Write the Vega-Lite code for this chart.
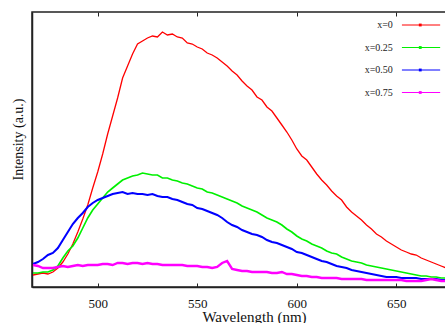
{
  "$schema": "https://vega.github.io/schema/vega-lite/v6.json",
  "width": 444,
  "height": 275,
  "autosize": "none",
  "padding": {"left": 32, "top": 12, "right": 0, "bottom": 36},
  "background": "white",
  "config": {
    "view": {"stroke": "#222", "strokeWidth": 1.5},
    "font": "Liberation Serif",
    "axis": {"labelFont": "Liberation Serif", "titleFont": "Liberation Serif", "domainColor": "#222", "tickColor": "#222", "labelColor": "#111", "titleColor": "#111", "grid": false}
  },
  "resolve": {"axis": {"x": "independent"}},
  "layer": [
    {
      "data": {"values": [
        {"w":467.5,"a":12,"b":14,"c":23,"d":22},
        {"w":470,"a":13,"b":14,"c":25,"d":21},
        {"w":472.5,"a":14,"b":15,"c":28,"d":19},
        {"w":475,"a":13,"b":15,"c":32,"d":19},
        {"w":477.5,"a":15,"b":17,"c":34,"d":19},
        {"w":480,"a":19,"b":21,"c":39,"d":20},
        {"w":482.5,"a":25,"b":29,"c":47,"d":21},
        {"w":485,"a":33,"b":36,"c":55,"d":20},
        {"w":487.5,"a":43,"b":41,"c":63,"d":21},
        {"w":490,"a":55,"b":49,"c":69,"d":22},
        {"w":492.5,"a":68,"b":59,"c":74,"d":21},
        {"w":495,"a":82,"b":69,"c":80,"d":22},
        {"w":497.5,"a":99,"b":77,"c":84,"d":22},
        {"w":500,"a":115,"b":83,"c":87,"d":22},
        {"w":502.5,"a":133,"b":89,"c":89,"d":23},
        {"w":505,"a":153,"b":95,"c":91,"d":23},
        {"w":507.5,"a":171,"b":99,"c":93,"d":22},
        {"w":510,"a":189,"b":103,"c":94,"d":24},
        {"w":512.5,"a":209,"b":107,"c":95,"d":24},
        {"w":515,"a":221,"b":109,"c":93,"d":23},
        {"w":517.5,"a":233,"b":111,"c":94,"d":24},
        {"w":520,"a":243,"b":112,"c":93,"d":24},
        {"w":522.5,"a":246,"b":114,"c":93,"d":23},
        {"w":525,"a":249,"b":113,"c":92,"d":24},
        {"w":527.5,"a":251,"b":112,"c":93,"d":23},
        {"w":530,"a":250,"b":112,"c":91,"d":23},
        {"w":532.5,"a":255,"b":109,"c":90,"d":22},
        {"w":535,"a":252,"b":109,"c":90,"d":22},
        {"w":537.5,"a":253,"b":107,"c":88,"d":22},
        {"w":540,"a":250,"b":106,"c":87,"d":22},
        {"w":542.5,"a":249,"b":104,"c":85,"d":22},
        {"w":545,"a":244,"b":103,"c":83,"d":21},
        {"w":547.5,"a":243,"b":101,"c":82,"d":21},
        {"w":550,"a":240,"b":99,"c":79,"d":21},
        {"w":552.5,"a":238,"b":98,"c":78,"d":20},
        {"w":555,"a":234,"b":95,"c":76,"d":20},
        {"w":557.5,"a":232,"b":94,"c":74,"d":19},
        {"w":560,"a":229,"b":92,"c":72,"d":20},
        {"w":562.5,"a":225,"b":90,"c":69,"d":24},
        {"w":565,"a":221,"b":88,"c":65,"d":26},
        {"w":567.5,"a":216,"b":86,"c":62,"d":18},
        {"w":570,"a":212,"b":84,"c":60,"d":17},
        {"w":572.5,"a":206,"b":81,"c":57,"d":16},
        {"w":575,"a":201,"b":79,"c":55,"d":16},
        {"w":577.5,"a":197,"b":77,"c":53,"d":15},
        {"w":580,"a":190,"b":75,"c":52,"d":15},
        {"w":582.5,"a":187,"b":72,"c":50,"d":15},
        {"w":585,"a":180,"b":69,"c":47,"d":15},
        {"w":587.5,"a":176,"b":67,"c":45,"d":14},
        {"w":590,"a":169,"b":65,"c":44,"d":14},
        {"w":592.5,"a":162,"b":62,"c":42,"d":15},
        {"w":595,"a":155,"b":58,"c":40,"d":13},
        {"w":597.5,"a":147,"b":55,"c":38,"d":13},
        {"w":600,"a":138,"b":51,"c":35,"d":12},
        {"w":602.5,"a":131,"b":48,"c":34,"d":11},
        {"w":605,"a":127,"b":46,"c":32,"d":11},
        {"w":607.5,"a":120,"b":43,"c":30,"d":10},
        {"w":610,"a":113,"b":41,"c":28,"d":10},
        {"w":612.5,"a":107,"b":39,"c":26,"d":9},
        {"w":615,"a":102,"b":36,"c":25,"d":9},
        {"w":617.5,"a":96,"b":34,"c":23,"d":9},
        {"w":620,"a":91,"b":33,"c":21,"d":9},
        {"w":622.5,"a":87,"b":30,"c":20,"d":8},
        {"w":625,"a":80,"b":28,"c":19,"d":8},
        {"w":627.5,"a":75,"b":26,"c":17,"d":8},
        {"w":630,"a":71,"b":25,"c":16,"d":8},
        {"w":632.5,"a":67,"b":24,"c":15,"d":8},
        {"w":635,"a":62,"b":22,"c":14,"d":7},
        {"w":637.5,"a":58,"b":21,"c":13,"d":7},
        {"w":640,"a":53,"b":20,"c":12,"d":7},
        {"w":642.5,"a":50,"b":19,"c":11,"d":7},
        {"w":645,"a":46,"b":18,"c":10,"d":7},
        {"w":647.5,"a":43,"b":17,"c":10,"d":7},
        {"w":650,"a":40,"b":16,"c":10,"d":7},
        {"w":652.5,"a":37,"b":15,"c":9,"d":7},
        {"w":655,"a":35,"b":14,"c":9,"d":6},
        {"w":657.5,"a":33,"b":13,"c":9,"d":6},
        {"w":660,"a":32,"b":12,"c":9,"d":6},
        {"w":662.5,"a":29,"b":11,"c":8,"d":6},
        {"w":665,"a":27,"b":11,"c":8,"d":7},
        {"w":667.5,"a":25,"b":10,"c":8,"d":8},
        {"w":670,"a":23,"b":10,"c":8,"d":7},
        {"w":672.5,"a":21,"b":9,"c":7,"d":6},
        {"w":675,"a":19,"b":9,"c":7,"d":6}
      ]},
      "transform": [{"fold": ["a", "b", "c", "d"], "as": ["k", "v"]}],
      "mark": {"type": "line", "clip": true},
      "encoding": {
        "x": {"field": "w", "type": "quantitative", "scale": {"domain": [467, 690], "nice": false, "zero": false},
          "axis": {"values": [500, 550, 600, 650], "title": "Wavelength (nm)", "titleFontSize": 15, "titleFontWeight": "normal", "titlePadding": -1, "labelFontSize": 13, "tickSize": -4, "labelPadding": 14, "domainWidth": 1.5, "labelFlush": false}},
        "y": {"field": "v", "type": "quantitative", "scale": {"domain": [0, 275], "nice": false},
          "axis": {"labels": false, "ticks": false, "title": "Intensity (a.u.)", "titleFontSize": 14, "titleFontWeight": "normal", "titleAngle": -90, "titleAlign": "center", "titleBaseline": "middle", "titleX": -14, "titleY": 127, "domainWidth": 1.5}},
        "color": {"field": "k", "type": "nominal", "scale": {"domain": ["a", "b", "c", "d"], "range": ["#ff0000", "#00f000", "#0000ff", "#ff00ff"]}, "legend": null},
        "strokeWidth": {"field": "k", "type": "nominal", "scale": {"domain": ["a", "b", "c", "d"], "range": [1.3, 2.4, 2.4, 3]}, "legend": null}
      }
    },
    {
      "data": {"values": [
        {"k": "a", "lab": "x=0", "ly": 262, "x1": 652.8, "x2": 672, "xm": 662, "xt": 648.2},
        {"k": "b", "lab": "x=0.25", "ly": 239.5, "x1": 652.8, "x2": 672, "xm": 662, "xt": 648.2},
        {"k": "c", "lab": "x=0.50", "ly": 217, "x1": 652.8, "x2": 672, "xm": 662, "xt": 648.2},
        {"k": "d", "lab": "x=0.75", "ly": 194.5, "x1": 652.8, "x2": 672, "xm": 662, "xt": 648.2}
      ]},
      "layer": [
        {
          "mark": {"type": "rule", "strokeWidth": 1},
          "encoding": {
            "x": {"field": "x1", "type": "quantitative", "axis": {"orient": "top", "values": [500, 550, 600, 650], "labels": false, "title": null, "tickSize": -4, "domain": false}},
            "x2": {"field": "x2"},
            "y": {"field": "ly", "type": "quantitative"},
            "color": {"field": "k", "type": "nominal", "legend": null}
          }
        },
        {
          "mark": {"type": "square", "size": 8, "filled": true, "opacity": 1},
          "encoding": {
            "x": {"field": "xm", "type": "quantitative"},
            "y": {"field": "ly", "type": "quantitative"},
            "color": {"field": "k", "type": "nominal", "legend": null}
          }
        },
        {
          "mark": {"type": "text", "align": "right", "baseline": "middle", "font": "Liberation Serif", "fontSize": 10, "color": "#222"},
          "encoding": {
            "x": {"field": "xt", "type": "quantitative"},
            "y": {"field": "ly", "type": "quantitative"},
            "text": {"field": "lab"}
          }
        }
      ]
    }
  ]
}
